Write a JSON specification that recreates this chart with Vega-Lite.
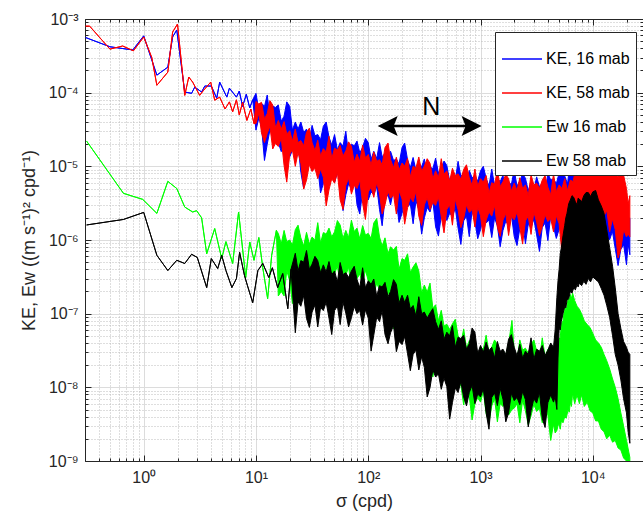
{
  "$schema": "https://vega.github.io/schema/vega-lite/v6.json",
  "autosize": {"type": "none"},
  "padding": {"left": 85, "top": 19, "right": 0, "bottom": 54},
  "width": 558,
  "height": 442,
  "background": "white",
  "config": {
    "view": {"stroke": null},
    "axis": {
      "labelFont": "Liberation Sans",
      "titleFont": "Liberation Sans",
      "labelColor": "#262626",
      "titleColor": "#262626",
      "titleFontWeight": "normal",
      "domainColor": "#262626",
      "tickColor": "#262626"
    }
  },
  "data": {
    "values": [
      {"series": "KE, 16 mab", "f": 0.304, "lo": 5.6e-4, "hi": 5.6e-4},
      {"series": "KE, 16 mab", "f": 0.5, "lo": 4.2e-4, "hi": 4.2e-4},
      {"series": "KE, 16 mab", "f": 0.8, "lo": 3.8e-4, "hi": 3.8e-4},
      {"series": "KE, 16 mab", "f": 1.0, "lo": 5.9e-4, "hi": 5.9e-4},
      {"series": "KE, 16 mab", "f": 1.31, "lo": 1.73e-4, "hi": 1.73e-4},
      {"series": "KE, 16 mab", "f": 1.64, "lo": 2.22e-4, "hi": 2.22e-4},
      {"series": "KE, 16 mab", "f": 1.81, "lo": 5.7e-4, "hi": 5.7e-4},
      {"series": "KE, 16 mab", "f": 1.97, "lo": 7.1e-4, "hi": 7.1e-4},
      {"series": "KE, 16 mab", "f": 2.32, "lo": 1.02e-4, "hi": 1.02e-4},
      {"series": "KE, 16 mab", "f": 2.67, "lo": 9.8e-5, "hi": 9.8e-5},
      {"series": "KE, 16 mab", "f": 2.85, "lo": 1.19e-4, "hi": 1.19e-4},
      {"series": "KE, 16 mab", "f": 3.28, "lo": 1.02e-4, "hi": 1.02e-4},
      {"series": "KE, 16 mab", "f": 3.5, "lo": 1.23e-4, "hi": 1.23e-4},
      {"series": "KE, 16 mab", "f": 4.0, "lo": 1.23e-4, "hi": 1.23e-4},
      {"series": "KE, 16 mab", "f": 4.47, "lo": 8.4e-5, "hi": 8.4e-5},
      {"series": "KE, 16 mab", "f": 4.75, "lo": 1.39e-4, "hi": 1.39e-4},
      {"series": "KE, 16 mab", "f": 5.5, "lo": 8.7e-5, "hi": 8.7e-5},
      {"series": "KE, 16 mab", "f": 5.8, "lo": 1.15e-4, "hi": 1.15e-4},
      {"series": "KE, 16 mab", "f": 6.7, "lo": 8.7e-5, "hi": 8.7e-5},
      {"series": "KE, 16 mab", "f": 7.1, "lo": 1.05e-4, "hi": 1.05e-4},
      {"series": "KE, 16 mab", "f": 7.6, "lo": 6.5e-5, "hi": 6.5e-5},
      {"series": "KE, 16 mab", "f": 8.2, "lo": 9.5e-5, "hi": 9.5e-5},
      {"series": "KE, 16 mab", "f": 8.8, "lo": 6.2e-5, "hi": 6.2e-5},
      {"series": "KE, 16 mab", "f": 9.35, "lo": 8.0e-5, "hi": 8.0e-5},
      {"series": "KE, 16 mab", "f": 10, "lo": 3.1e-5, "hi": 9.8e-5},
      {"series": "KE, 16 mab", "f": 11.2, "lo": 3.5e-5, "hi": 7.2e-5},
      {"series": "KE, 16 mab", "f": 12.6, "lo": 2.0e-5, "hi": 9.3e-5},
      {"series": "KE, 16 mab", "f": 14.1, "lo": 2.7e-5, "hi": 6.6e-5},
      {"series": "KE, 16 mab", "f": 15.8, "lo": 2.1e-5, "hi": 6.8e-5},
      {"series": "KE, 16 mab", "f": 17.8, "lo": 2.2e-5, "hi": 4.8e-5},
      {"series": "KE, 16 mab", "f": 20.0, "lo": 1.35e-5, "hi": 6.5e-5},
      {"series": "KE, 16 mab", "f": 22.4, "lo": 1.5e-5, "hi": 4.0e-5},
      {"series": "KE, 16 mab", "f": 25.1, "lo": 8.3e-6, "hi": 4.0e-5},
      {"series": "KE, 16 mab", "f": 28.2, "lo": 1.23e-5, "hi": 3.2e-5},
      {"series": "KE, 16 mab", "f": 31.6, "lo": 8.7e-6, "hi": 3.6e-5},
      {"series": "KE, 16 mab", "f": 35.5, "lo": 9.8e-6, "hi": 2.7e-5},
      {"series": "KE, 16 mab", "f": 39.8, "lo": 5.8e-6, "hi": 3.5e-5},
      {"series": "KE, 16 mab", "f": 44.7, "lo": 7.6e-6, "hi": 2.5e-5},
      {"series": "KE, 16 mab", "f": 50.1, "lo": 6.0e-6, "hi": 2.7e-5},
      {"series": "KE, 16 mab", "f": 56.2, "lo": 6.3e-6, "hi": 2.1e-5},
      {"series": "KE, 16 mab", "f": 63.1, "lo": 4.1e-6, "hi": 3.0e-5},
      {"series": "KE, 16 mab", "f": 70.8, "lo": 5.0e-6, "hi": 2.0e-5},
      {"series": "KE, 16 mab", "f": 79.4, "lo": 3.0e-6, "hi": 2.2e-5},
      {"series": "KE, 16 mab", "f": 89.1, "lo": 4.6e-6, "hi": 1.8e-5},
      {"series": "KE, 16 mab", "f": 100, "lo": 3.5e-6, "hi": 2.1e-5},
      {"series": "KE, 16 mab", "f": 112, "lo": 4.1e-6, "hi": 1.6e-5},
      {"series": "KE, 16 mab", "f": 126, "lo": 2.6e-6, "hi": 2.1e-5},
      {"series": "KE, 16 mab", "f": 141, "lo": 3.6e-6, "hi": 1.5e-5},
      {"series": "KE, 16 mab", "f": 158, "lo": 3.0e-6, "hi": 1.6e-5},
      {"series": "KE, 16 mab", "f": 178, "lo": 3.35e-6, "hi": 1.26e-5},
      {"series": "KE, 16 mab", "f": 200, "lo": 2.3e-6, "hi": 1.8e-5},
      {"series": "KE, 16 mab", "f": 224, "lo": 2.8e-6, "hi": 1.23e-5},
      {"series": "KE, 16 mab", "f": 251, "lo": 1.66e-6, "hi": 1.32e-5},
      {"series": "KE, 16 mab", "f": 282, "lo": 2.6e-6, "hi": 1.1e-5},
      {"series": "KE, 16 mab", "f": 316, "lo": 2.0e-6, "hi": 1.26e-5},
      {"series": "KE, 16 mab", "f": 355, "lo": 2.4e-6, "hi": 9.8e-6},
      {"series": "KE, 16 mab", "f": 398, "lo": 1.51e-6, "hi": 1.29e-5},
      {"series": "KE, 16 mab", "f": 447, "lo": 2.1e-6, "hi": 9.5e-6},
      {"series": "KE, 16 mab", "f": 501, "lo": 1.84e-6, "hi": 1.03e-5},
      {"series": "KE, 16 mab", "f": 562, "lo": 2.1e-6, "hi": 8.1e-6},
      {"series": "KE, 16 mab", "f": 631, "lo": 1.45e-6, "hi": 1.17e-5},
      {"series": "KE, 16 mab", "f": 708, "lo": 1.82e-6, "hi": 8.1e-6},
      {"series": "KE, 16 mab", "f": 794, "lo": 1.11e-6, "hi": 8.8e-6},
      {"series": "KE, 16 mab", "f": 891, "lo": 1.78e-6, "hi": 7.4e-6},
      {"series": "KE, 16 mab", "f": 1000, "lo": 1.38e-6, "hi": 8.7e-6},
      {"series": "KE, 16 mab", "f": 1122, "lo": 1.7e-6, "hi": 6.9e-6},
      {"series": "KE, 16 mab", "f": 1259, "lo": 1.08e-6, "hi": 9.2e-6},
      {"series": "KE, 16 mab", "f": 1413, "lo": 1.55e-6, "hi": 6.9e-6},
      {"series": "KE, 16 mab", "f": 1585, "lo": 1.35e-6, "hi": 7.6e-6},
      {"series": "KE, 16 mab", "f": 1778, "lo": 1.57e-6, "hi": 6.0e-6},
      {"series": "KE, 16 mab", "f": 1995, "lo": 1.12e-6, "hi": 9.0e-6},
      {"series": "KE, 16 mab", "f": 2239, "lo": 1.43e-6, "hi": 6.3e-6},
      {"series": "KE, 16 mab", "f": 2512, "lo": 8.9e-7, "hi": 6.9e-6},
      {"series": "KE, 16 mab", "f": 2818, "lo": 1.48e-6, "hi": 6.0e-6},
      {"series": "KE, 16 mab", "f": 3162, "lo": 1.17e-6, "hi": 7.2e-6},
      {"series": "KE, 16 mab", "f": 3548, "lo": 1.48e-6, "hi": 5.9e-6},
      {"series": "KE, 16 mab", "f": 3981, "lo": 9.8e-7, "hi": 8.1e-6},
      {"series": "KE, 16 mab", "f": 4467, "lo": 1.51e-6, "hi": 6.8e-6},
      {"series": "KE, 16 mab", "f": 5012, "lo": 1.4e-6, "hi": 8.1e-6},
      {"series": "KE, 16 mab", "f": 5623, "lo": 1.7e-6, "hi": 7.4e-6},
      {"series": "KE, 16 mab", "f": 6310, "lo": 1.29e-6, "hi": 1.26e-5},
      {"series": "KE, 16 mab", "f": 7079, "lo": 1.76e-6, "hi": 9.9e-6},
      {"series": "KE, 16 mab", "f": 7943, "lo": 1.17e-6, "hi": 1.23e-5},
      {"series": "KE, 16 mab", "f": 8913, "lo": 1.8e-6, "hi": 1.15e-5},
      {"series": "KE, 16 mab", "f": 10000, "lo": 1.32e-6, "hi": 1.23e-5},
      {"series": "KE, 16 mab", "f": 11220, "lo": 1.43e-6, "hi": 8.4e-6},
      {"series": "KE, 16 mab", "f": 12590, "lo": 8.1e-7, "hi": 9.8e-6},
      {"series": "KE, 16 mab", "f": 14130, "lo": 1.01e-6, "hi": 5.7e-6},
      {"series": "KE, 16 mab", "f": 15850, "lo": 7.6e-7, "hi": 4.8e-6},
      {"series": "KE, 16 mab", "f": 17780, "lo": 7.5e-7, "hi": 2.9e-6},
      {"series": "KE, 16 mab", "f": 19950, "lo": 4.6e-7, "hi": 3.3e-6},
      {"series": "KE, 16 mab", "f": 21380, "lo": 6.3e-7, "hi": 2.0e-6},
      {"series": "KE, 16 mab", "f": 10.6, "lo": 4.5e-5, "hi": 5.8e-5},
      {"series": "KE, 16 mab", "f": 11.9, "lo": 1.2e-5, "hi": 6.5e-5},
      {"series": "KE, 16 mab", "f": 13.3, "lo": 3.1e-5, "hi": 4.75e-5},
      {"series": "KE, 16 mab", "f": 14.9, "lo": 3.8e-5, "hi": 6.3e-5},
      {"series": "KE, 16 mab", "f": 16.8, "lo": 1.58e-5, "hi": 4.1e-5},
      {"series": "KE, 16 mab", "f": 18.8, "lo": 2.75e-5, "hi": 7.5e-5},
      {"series": "KE, 16 mab", "f": 21.1, "lo": 1.65e-5, "hi": 3.1e-5},
      {"series": "KE, 16 mab", "f": 23.7, "lo": 1.95e-5, "hi": 3.2e-5},
      {"series": "KE, 16 mab", "f": 26.6, "lo": 5.0e-6, "hi": 2.9e-5},
      {"series": "KE, 16 mab", "f": 29.9, "lo": 1.41e-5, "hi": 2.3e-5},
      {"series": "KE, 16 mab", "f": 33.5, "lo": 1.37e-5, "hi": 2.6e-5},
      {"series": "KE, 16 mab", "f": 37.6, "lo": 4.35e-6, "hi": 2.3e-5},
      {"series": "KE, 16 mab", "f": 42.2, "lo": 9.5e-6, "hi": 4.0e-5},
      {"series": "KE, 16 mab", "f": 47.3, "lo": 8.4e-6, "hi": 1.95e-5},
      {"series": "KE, 16 mab", "f": 53.1, "lo": 8.2e-6, "hi": 1.68e-5},
      {"series": "KE, 16 mab", "f": 59.6, "lo": 2.5e-6, "hi": 1.89e-5},
      {"series": "KE, 16 mab", "f": 66.8, "lo": 5.75e-6, "hi": 1.44e-5},
      {"series": "KE, 16 mab", "f": 75.0, "lo": 7.0e-6, "hi": 1.9e-5},
      {"series": "KE, 16 mab", "f": 84.1, "lo": 2.25e-6, "hi": 1.53e-5},
      {"series": "KE, 16 mab", "f": 94.4, "lo": 5.75e-6, "hi": 2.4e-5},
      {"series": "KE, 16 mab", "f": 106, "lo": 4.5e-6, "hi": 1.25e-5},
      {"series": "KE, 16 mab", "f": 119, "lo": 5.3e-6, "hi": 1.28e-5},
      {"series": "KE, 16 mab", "f": 133, "lo": 1.56e-6, "hi": 1.35e-5},
      {"series": "KE, 16 mab", "f": 150, "lo": 4.1e-6, "hi": 1.08e-5},
      {"series": "KE, 16 mab", "f": 168, "lo": 4.7e-6, "hi": 1.2e-5},
      {"series": "KE, 16 mab", "f": 188, "lo": 1.73e-6, "hi": 1.07e-5},
      {"series": "KE, 16 mab", "f": 211, "lo": 3.5e-6, "hi": 2.07e-5},
      {"series": "KE, 16 mab", "f": 237, "lo": 3.1e-6, "hi": 9.6e-6},
      {"series": "KE, 16 mab", "f": 266, "lo": 3.4e-6, "hi": 8.8e-6},
      {"series": "KE, 16 mab", "f": 299, "lo": 1.2e-6, "hi": 9.9e-6},
      {"series": "KE, 16 mab", "f": 335, "lo": 2.76e-6, "hi": 7.1e-6},
      {"series": "KE, 16 mab", "f": 376, "lo": 3.4e-6, "hi": 9.3e-6},
      {"series": "KE, 16 mab", "f": 422, "lo": 1.13e-6, "hi": 8.1e-6},
      {"series": "KE, 16 mab", "f": 473, "lo": 2.6e-6, "hi": 1.18e-5},
      {"series": "KE, 16 mab", "f": 531, "lo": 2.3e-6, "hi": 6.3e-6},
      {"series": "KE, 16 mab", "f": 596, "lo": 2.7e-6, "hi": 6.5e-6},
      {"series": "KE, 16 mab", "f": 668, "lo": 8.7e-7, "hi": 7.3e-6},
      {"series": "KE, 16 mab", "f": 750, "lo": 2.1e-6, "hi": 5.8e-6},
      {"series": "KE, 16 mab", "f": 841, "lo": 2.5e-6, "hi": 7.0e-6},
      {"series": "KE, 16 mab", "f": 944, "lo": 1.04e-6, "hi": 6.3e-6},
      {"series": "KE, 16 mab", "f": 1059, "lo": 2.1e-6, "hi": 1.0e-5},
      {"series": "KE, 16 mab", "f": 1189, "lo": 1.87e-6, "hi": 5.4e-6},
      {"series": "KE, 16 mab", "f": 1334, "lo": 2.0e-6, "hi": 5.5e-6},
      {"series": "KE, 16 mab", "f": 1496, "lo": 8.1e-7, "hi": 6.2e-6},
      {"series": "KE, 16 mab", "f": 1679, "lo": 1.8e-6, "hi": 4.3e-6},
      {"series": "KE, 16 mab", "f": 1884, "lo": 2.2e-6, "hi": 5.7e-6},
      {"series": "KE, 16 mab", "f": 2113, "lo": 8.4e-7, "hi": 5.4e-6},
      {"series": "KE, 16 mab", "f": 2371, "lo": 1.79e-6, "hi": 7.9e-6},
      {"series": "KE, 16 mab", "f": 2661, "lo": 1.63e-6, "hi": 4.7e-6},
      {"series": "KE, 16 mab", "f": 2985, "lo": 1.92e-6, "hi": 4.8e-6},
      {"series": "KE, 16 mab", "f": 3350, "lo": 7.0e-7, "hi": 5.3e-6},
      {"series": "KE, 16 mab", "f": 3758, "lo": 1.7e-6, "hi": 4.25e-6},
      {"series": "KE, 16 mab", "f": 4217, "lo": 2.1e-6, "hi": 6.5e-6},
      {"series": "KE, 16 mab", "f": 4732, "lo": 1.05e-6, "hi": 5.8e-6},
      {"series": "KE, 16 mab", "f": 5309, "lo": 2.1e-6, "hi": 9.3e-6},
      {"series": "KE, 16 mab", "f": 5957, "lo": 1.87e-6, "hi": 5.8e-6},
      {"series": "KE, 16 mab", "f": 6683, "lo": 2.3e-6, "hi": 7.9e-6},
      {"series": "KE, 16 mab", "f": 7499, "lo": 7.0e-7, "hi": 8.9e-6},
      {"series": "KE, 16 mab", "f": 8414, "lo": 2.07e-6, "hi": 8.3e-6},
      {"series": "KE, 16 mab", "f": 9441, "lo": 2.5e-6, "hi": 1.09e-5},
      {"series": "KE, 16 mab", "f": 10590, "lo": 9.9e-7, "hi": 7.1e-6},
      {"series": "KE, 16 mab", "f": 11890, "lo": 1.79e-6, "hi": 1.13e-5},
      {"series": "KE, 16 mab", "f": 13340, "lo": 1.11e-6, "hi": 4.4e-6},
      {"series": "KE, 16 mab", "f": 14960, "lo": 1.31e-6, "hi": 3.8e-6},
      {"series": "KE, 16 mab", "f": 16790, "lo": 4.5e-7, "hi": 2.6e-6},
      {"series": "KE, 16 mab", "f": 18840, "lo": 8.6e-7, "hi": 2.1e-6},
      {"series": "KE, 16 mab", "f": 20650, "lo": 8.8e-7, "hi": 1.9e-6},

      {"series": "KE, 58 mab", "f": 0.304, "lo": 8.0e-4, "hi": 8.0e-4},
      {"series": "KE, 58 mab", "f": 0.33, "lo": 8.0e-4, "hi": 8.0e-4},
      {"series": "KE, 58 mab", "f": 0.5, "lo": 3.9e-4, "hi": 3.9e-4},
      {"series": "KE, 58 mab", "f": 0.65, "lo": 4.3e-4, "hi": 4.3e-4},
      {"series": "KE, 58 mab", "f": 0.81, "lo": 3.7e-4, "hi": 3.7e-4},
      {"series": "KE, 58 mab", "f": 1.0, "lo": 5.7e-4, "hi": 5.7e-4},
      {"series": "KE, 58 mab", "f": 1.18, "lo": 3.0e-4, "hi": 3.0e-4},
      {"series": "KE, 58 mab", "f": 1.31, "lo": 1.26e-4, "hi": 1.26e-4},
      {"series": "KE, 58 mab", "f": 1.64, "lo": 1.9e-4, "hi": 1.9e-4},
      {"series": "KE, 58 mab", "f": 1.81, "lo": 6.65e-4, "hi": 6.65e-4},
      {"series": "KE, 58 mab", "f": 2.0, "lo": 8.55e-4, "hi": 8.55e-4},
      {"series": "KE, 58 mab", "f": 2.32, "lo": 9.2e-5, "hi": 9.2e-5},
      {"series": "KE, 58 mab", "f": 2.52, "lo": 1.63e-4, "hi": 1.63e-4},
      {"series": "KE, 58 mab", "f": 2.73, "lo": 1.39e-4, "hi": 1.39e-4},
      {"series": "KE, 58 mab", "f": 3.15, "lo": 9.2e-5, "hi": 9.2e-5},
      {"series": "KE, 58 mab", "f": 3.42, "lo": 1.08e-4, "hi": 1.08e-4},
      {"series": "KE, 58 mab", "f": 3.95, "lo": 1.39e-4, "hi": 1.39e-4},
      {"series": "KE, 58 mab", "f": 4.29, "lo": 7.9e-5, "hi": 7.9e-5},
      {"series": "KE, 58 mab", "f": 4.75, "lo": 8.7e-5, "hi": 8.7e-5},
      {"series": "KE, 58 mab", "f": 5.3, "lo": 6.0e-5, "hi": 6.0e-5},
      {"series": "KE, 58 mab", "f": 5.8, "lo": 7.5e-5, "hi": 7.5e-5},
      {"series": "KE, 58 mab", "f": 6.2, "lo": 5.5e-5, "hi": 5.5e-5},
      {"series": "KE, 58 mab", "f": 6.7, "lo": 8.0e-5, "hi": 8.0e-5},
      {"series": "KE, 58 mab", "f": 7.1, "lo": 5.0e-5, "hi": 5.0e-5},
      {"series": "KE, 58 mab", "f": 7.6, "lo": 7.4e-5, "hi": 7.4e-5},
      {"series": "KE, 58 mab", "f": 8.3, "lo": 4.2e-5, "hi": 4.2e-5},
      {"series": "KE, 58 mab", "f": 9.0, "lo": 6.0e-5, "hi": 6.0e-5},
      {"series": "KE, 58 mab", "f": 9.6, "lo": 3.8e-5, "hi": 3.8e-5},
      {"series": "KE, 58 mab", "f": 10, "lo": 3.8e-5, "hi": 7.6e-5},
      {"series": "KE, 58 mab", "f": 11.2, "lo": 2.85e-5, "hi": 7.4e-5},
      {"series": "KE, 58 mab", "f": 12.6, "lo": 2.8e-5, "hi": 5.2e-5},
      {"series": "KE, 58 mab", "f": 14.1, "lo": 1.72e-5, "hi": 6.8e-5},
      {"series": "KE, 58 mab", "f": 15.8, "lo": 1.86e-5, "hi": 4.2e-5},
      {"series": "KE, 58 mab", "f": 17.8, "lo": 1.02e-5, "hi": 4.05e-5},
      {"series": "KE, 58 mab", "f": 20.0, "lo": 1.46e-5, "hi": 3.05e-5},
      {"series": "KE, 58 mab", "f": 22.4, "lo": 1.0e-5, "hi": 3.2e-5},
      {"series": "KE, 58 mab", "f": 25.1, "lo": 1.1e-5, "hi": 2.24e-5},
      {"series": "KE, 58 mab", "f": 28.2, "lo": 6.5e-6, "hi": 2.9e-5},
      {"series": "KE, 58 mab", "f": 31.6, "lo": 8.5e-6, "hi": 2.1e-5},
      {"series": "KE, 58 mab", "f": 35.5, "lo": 6.8e-6, "hi": 2.26e-5},
      {"series": "KE, 58 mab", "f": 39.8, "lo": 7.1e-6, "hi": 1.74e-5},
      {"series": "KE, 58 mab", "f": 44.7, "lo": 4.8e-6, "hi": 2.56e-5},
      {"series": "KE, 58 mab", "f": 50.1, "lo": 5.9e-6, "hi": 1.76e-5},
      {"series": "KE, 58 mab", "f": 56.2, "lo": 3.5e-6, "hi": 1.92e-5},
      {"series": "KE, 58 mab", "f": 63.1, "lo": 5.5e-6, "hi": 1.62e-5},
      {"series": "KE, 58 mab", "f": 70.8, "lo": 4.2e-6, "hi": 1.87e-5},
      {"series": "KE, 58 mab", "f": 79.4, "lo": 5.0e-6, "hi": 1.46e-5},
      {"series": "KE, 58 mab", "f": 89.1, "lo": 3.16e-6, "hi": 1.94e-5},
      {"series": "KE, 58 mab", "f": 100, "lo": 4.5e-6, "hi": 1.45e-5},
      {"series": "KE, 58 mab", "f": 112, "lo": 3.8e-6, "hi": 1.57e-5},
      {"series": "KE, 58 mab", "f": 126, "lo": 4.3e-6, "hi": 1.23e-5},
      {"series": "KE, 58 mab", "f": 141, "lo": 3.0e-6, "hi": 1.8e-5},
      {"series": "KE, 58 mab", "f": 158, "lo": 3.7e-6, "hi": 1.23e-5},
      {"series": "KE, 58 mab", "f": 178, "lo": 2.25e-6, "hi": 1.33e-5},
      {"series": "KE, 58 mab", "f": 200, "lo": 3.6e-6, "hi": 1.11e-5},
      {"series": "KE, 58 mab", "f": 224, "lo": 2.74e-6, "hi": 1.28e-5},
      {"series": "KE, 58 mab", "f": 251, "lo": 3.3e-6, "hi": 1.0e-5},
      {"series": "KE, 58 mab", "f": 282, "lo": 2.1e-6, "hi": 1.34e-5},
      {"series": "KE, 58 mab", "f": 316, "lo": 3.0e-6, "hi": 1.01e-5},
      {"series": "KE, 58 mab", "f": 355, "lo": 2.6e-6, "hi": 1.1e-5},
      {"series": "KE, 58 mab", "f": 398, "lo": 2.95e-6, "hi": 8.7e-6},
      {"series": "KE, 58 mab", "f": 447, "lo": 2.08e-6, "hi": 1.27e-5},
      {"series": "KE, 58 mab", "f": 501, "lo": 2.6e-6, "hi": 8.7e-6},
      {"series": "KE, 58 mab", "f": 562, "lo": 1.59e-6, "hi": 9.4e-6},
      {"series": "KE, 58 mab", "f": 631, "lo": 2.57e-6, "hi": 7.9e-6},
      {"series": "KE, 58 mab", "f": 708, "lo": 1.96e-6, "hi": 9.1e-6},
      {"series": "KE, 58 mab", "f": 794, "lo": 2.37e-6, "hi": 7.0e-6},
      {"series": "KE, 58 mab", "f": 891, "lo": 1.5e-6, "hi": 9.2e-6},
      {"series": "KE, 58 mab", "f": 1000, "lo": 2.14e-6, "hi": 6.8e-6},
      {"series": "KE, 58 mab", "f": 1122, "lo": 1.85e-6, "hi": 7.5e-6},
      {"series": "KE, 58 mab", "f": 1259, "lo": 2.11e-6, "hi": 6.0e-6},
      {"series": "KE, 58 mab", "f": 1413, "lo": 1.49e-6, "hi": 8.9e-6},
      {"series": "KE, 58 mab", "f": 1585, "lo": 1.86e-6, "hi": 6.2e-6},
      {"series": "KE, 58 mab", "f": 1778, "lo": 1.15e-6, "hi": 6.8e-6},
      {"series": "KE, 58 mab", "f": 1995, "lo": 1.88e-6, "hi": 5.9e-6},
      {"series": "KE, 58 mab", "f": 2239, "lo": 1.47e-6, "hi": 7.0e-6},
      {"series": "KE, 58 mab", "f": 2512, "lo": 1.82e-6, "hi": 5.6e-6},
      {"series": "KE, 58 mab", "f": 2818, "lo": 1.19e-6, "hi": 7.7e-6},
      {"series": "KE, 58 mab", "f": 3162, "lo": 1.74e-6, "hi": 5.9e-6},
      {"series": "KE, 58 mab", "f": 3548, "lo": 1.53e-6, "hi": 6.5e-6},
      {"series": "KE, 58 mab", "f": 3981, "lo": 1.78e-6, "hi": 5.2e-6},
      {"series": "KE, 58 mab", "f": 4467, "lo": 1.29e-6, "hi": 7.9e-6},
      {"series": "KE, 58 mab", "f": 5012, "lo": 1.66e-6, "hi": 5.6e-6},
      {"series": "KE, 58 mab", "f": 5623, "lo": 1.11e-6, "hi": 6.8e-6},
      {"series": "KE, 58 mab", "f": 6310, "lo": 1.95e-6, "hi": 6.5e-6},
      {"series": "KE, 58 mab", "f": 7079, "lo": 1.64e-6, "hi": 9.8e-6},
      {"series": "KE, 58 mab", "f": 7943, "lo": 2.19e-6, "hi": 1.0e-5},
      {"series": "KE, 58 mab", "f": 8913, "lo": 1.53e-6, "hi": 1.86e-5},
      {"series": "KE, 58 mab", "f": 10000, "lo": 2.4e-6, "hi": 1.9e-5},
      {"series": "KE, 58 mab", "f": 11220, "lo": 1.97e-6, "hi": 2.6e-5},
      {"series": "KE, 58 mab", "f": 12590, "lo": 2.14e-6, "hi": 1.66e-5},
      {"series": "KE, 58 mab", "f": 14130, "lo": 1.29e-6, "hi": 1.86e-5},
      {"series": "KE, 58 mab", "f": 15850, "lo": 1.38e-6, "hi": 1.0e-5},
      {"series": "KE, 58 mab", "f": 17780, "lo": 7.6e-7, "hi": 8.3e-6},
      {"series": "KE, 58 mab", "f": 19950, "lo": 1.1e-6, "hi": 5.0e-6},
      {"series": "KE, 58 mab", "f": 21380, "lo": 1.1e-6, "hi": 4.0e-6},
      {"series": "KE, 58 mab", "f": 10.6, "lo": 5.3e-5, "hi": 7.0e-5},
      {"series": "KE, 58 mab", "f": 11.9, "lo": 2.1e-5, "hi": 4.4e-5},
      {"series": "KE, 58 mab", "f": 13.3, "lo": 3.5e-5, "hi": 7.8e-5},
      {"series": "KE, 58 mab", "f": 14.9, "lo": 2.05e-5, "hi": 3.3e-5},
      {"series": "KE, 58 mab", "f": 16.8, "lo": 2.4e-5, "hi": 3.2e-5},
      {"series": "KE, 58 mab", "f": 18.8, "lo": 6.1e-6, "hi": 2.75e-5},
      {"series": "KE, 58 mab", "f": 21.1, "lo": 1.68e-5, "hi": 2.2e-5},
      {"series": "KE, 58 mab", "f": 23.7, "lo": 1.54e-5, "hi": 2.1e-5},
      {"series": "KE, 58 mab", "f": 26.6, "lo": 4.9e-6, "hi": 1.9e-5},
      {"series": "KE, 58 mab", "f": 29.9, "lo": 1.06e-5, "hi": 3.3e-5},
      {"series": "KE, 58 mab", "f": 33.5, "lo": 9.4e-6, "hi": 1.64e-5},
      {"series": "KE, 58 mab", "f": 37.6, "lo": 9.2e-6, "hi": 1.39e-5},
      {"series": "KE, 58 mab", "f": 42.2, "lo": 2.9e-6, "hi": 1.57e-5},
      {"series": "KE, 58 mab", "f": 47.3, "lo": 6.8e-6, "hi": 1.27e-5},
      {"series": "KE, 58 mab", "f": 53.1, "lo": 8.3e-6, "hi": 1.67e-5},
      {"series": "KE, 58 mab", "f": 59.6, "lo": 2.6e-6, "hi": 1.38e-5},
      {"series": "KE, 58 mab", "f": 66.8, "lo": 6.9e-6, "hi": 2.15e-5},
      {"series": "KE, 58 mab", "f": 75.0, "lo": 5.5e-6, "hi": 1.14e-5},
      {"series": "KE, 58 mab", "f": 84.1, "lo": 6.5e-6, "hi": 1.17e-5},
      {"series": "KE, 58 mab", "f": 94.4, "lo": 1.9e-6, "hi": 1.3e-5},
      {"series": "KE, 58 mab", "f": 106, "lo": 5.2e-6, "hi": 1.04e-5},
      {"series": "KE, 58 mab", "f": 119, "lo": 6.0e-6, "hi": 1.17e-5},
      {"series": "KE, 58 mab", "f": 133, "lo": 2.25e-6, "hi": 1.05e-5},
      {"series": "KE, 58 mab", "f": 150, "lo": 4.6e-6, "hi": 2.07e-5},
      {"series": "KE, 58 mab", "f": 168, "lo": 4.1e-6, "hi": 9.6e-6},
      {"series": "KE, 58 mab", "f": 188, "lo": 4.7e-6, "hi": 8.9e-6},
      {"series": "KE, 58 mab", "f": 211, "lo": 1.64e-6, "hi": 1.0e-5},
      {"series": "KE, 58 mab", "f": 237, "lo": 3.8e-6, "hi": 7.2e-6},
      {"series": "KE, 58 mab", "f": 266, "lo": 4.6e-6, "hi": 9.5e-6},
      {"series": "KE, 58 mab", "f": 299, "lo": 1.58e-6, "hi": 8.6e-6},
      {"series": "KE, 58 mab", "f": 335, "lo": 3.75e-6, "hi": 1.27e-5},
      {"series": "KE, 58 mab", "f": 376, "lo": 3.25e-6, "hi": 6.8e-6},
      {"series": "KE, 58 mab", "f": 422, "lo": 3.8e-6, "hi": 7.0e-6},
      {"series": "KE, 58 mab", "f": 473, "lo": 1.25e-6, "hi": 7.8e-6},
      {"series": "KE, 58 mab", "f": 531, "lo": 3.0e-6, "hi": 6.3e-6},
      {"series": "KE, 58 mab", "f": 596, "lo": 3.6e-6, "hi": 7.5e-6},
      {"series": "KE, 58 mab", "f": 668, "lo": 1.47e-6, "hi": 6.7e-6},
      {"series": "KE, 58 mab", "f": 750, "lo": 3.0e-6, "hi": 1.05e-5},
      {"series": "KE, 58 mab", "f": 841, "lo": 2.6e-6, "hi": 5.5e-6},
      {"series": "KE, 58 mab", "f": 944, "lo": 2.8e-6, "hi": 5.4e-6},
      {"series": "KE, 58 mab", "f": 1059, "lo": 1.11e-6, "hi": 6.1e-6},
      {"series": "KE, 58 mab", "f": 1189, "lo": 2.4e-6, "hi": 4.3e-6},
      {"series": "KE, 58 mab", "f": 1334, "lo": 2.95e-6, "hi": 5.7e-6},
      {"series": "KE, 58 mab", "f": 1496, "lo": 1.12e-6, "hi": 5.3e-6},
      {"series": "KE, 58 mab", "f": 1679, "lo": 2.3e-6, "hi": 7.8e-6},
      {"series": "KE, 58 mab", "f": 1884, "lo": 2.07e-6, "hi": 4.6e-6},
      {"series": "KE, 58 mab", "f": 2113, "lo": 2.4e-6, "hi": 4.7e-6},
      {"series": "KE, 58 mab", "f": 2371, "lo": 8.8e-7, "hi": 5.0e-6},
      {"series": "KE, 58 mab", "f": 2661, "lo": 2.1e-6, "hi": 4.0e-6},
      {"series": "KE, 58 mab", "f": 2985, "lo": 2.4e-6, "hi": 5.6e-6},
      {"series": "KE, 58 mab", "f": 3350, "lo": 1.15e-6, "hi": 5.0e-6},
      {"series": "KE, 58 mab", "f": 3758, "lo": 2.2e-6, "hi": 7.5e-6},
      {"series": "KE, 58 mab", "f": 4217, "lo": 1.96e-6, "hi": 4.1e-6},
      {"series": "KE, 58 mab", "f": 4732, "lo": 2.15e-6, "hi": 4.5e-6},
      {"series": "KE, 58 mab", "f": 5309, "lo": 6.7e-7, "hi": 5.0e-6},
      {"series": "KE, 58 mab", "f": 5957, "lo": 2.25e-6, "hi": 4.7e-6},
      {"series": "KE, 58 mab", "f": 6683, "lo": 2.7e-6, "hi": 6.2e-6},
      {"series": "KE, 58 mab", "f": 7499, "lo": 1.23e-6, "hi": 8.3e-6},
      {"series": "KE, 58 mab", "f": 8414, "lo": 2.7e-6, "hi": 1.45e-5},
      {"series": "KE, 58 mab", "f": 9441, "lo": 2.6e-6, "hi": 1.45e-5},
      {"series": "KE, 58 mab", "f": 10590, "lo": 3.1e-6, "hi": 1.52e-5},
      {"series": "KE, 58 mab", "f": 11890, "lo": 1.18e-6, "hi": 2.3e-5},
      {"series": "KE, 58 mab", "f": 13340, "lo": 2.5e-6, "hi": 1.5e-5},
      {"series": "KE, 58 mab", "f": 14960, "lo": 1.93e-6, "hi": 1.35e-5},
      {"series": "KE, 58 mab", "f": 16790, "lo": 5.7e-7, "hi": 7.1e-6},
      {"series": "KE, 58 mab", "f": 18840, "lo": 1.38e-6, "hi": 7.5e-6},
      {"series": "KE, 58 mab", "f": 20650, "lo": 1.21e-6, "hi": 3.1e-6},

      {"series": "Ew 16 mab", "f": 0.31, "lo": 2.2e-5, "hi": 2.2e-5},
      {"series": "Ew 16 mab", "f": 0.66, "lo": 4.3e-6, "hi": 4.3e-6},
      {"series": "Ew 16 mab", "f": 0.98, "lo": 3.56e-6, "hi": 3.56e-6},
      {"series": "Ew 16 mab", "f": 1.31, "lo": 2.3e-6, "hi": 2.3e-6},
      {"series": "Ew 16 mab", "f": 1.64, "lo": 6.25e-6, "hi": 6.25e-6},
      {"series": "Ew 16 mab", "f": 1.97, "lo": 5.0e-6, "hi": 5.0e-6},
      {"series": "Ew 16 mab", "f": 2.32, "lo": 2.8e-6, "hi": 2.8e-6},
      {"series": "Ew 16 mab", "f": 2.73, "lo": 2.4e-6, "hi": 2.4e-6},
      {"series": "Ew 16 mab", "f": 2.96, "lo": 2.5e-6, "hi": 2.5e-6},
      {"series": "Ew 16 mab", "f": 3.28, "lo": 2.0e-6, "hi": 2.0e-6},
      {"series": "Ew 16 mab", "f": 3.64, "lo": 6.5e-7, "hi": 6.5e-7},
      {"series": "Ew 16 mab", "f": 4.29, "lo": 1.43e-6, "hi": 1.43e-6},
      {"series": "Ew 16 mab", "f": 4.95, "lo": 5.6e-7, "hi": 5.6e-7},
      {"series": "Ew 16 mab", "f": 5.4, "lo": 9.5e-7, "hi": 9.5e-7},
      {"series": "Ew 16 mab", "f": 6.2, "lo": 4.8e-7, "hi": 4.8e-7},
      {"series": "Ew 16 mab", "f": 7.0, "lo": 2.4e-6, "hi": 2.4e-6},
      {"series": "Ew 16 mab", "f": 8.1, "lo": 3.1e-7, "hi": 3.1e-7},
      {"series": "Ew 16 mab", "f": 8.8, "lo": 9.4e-7, "hi": 9.4e-7},
      {"series": "Ew 16 mab", "f": 9.6, "lo": 5.3e-7, "hi": 5.3e-7},
      {"series": "Ew 16 mab", "f": 10.6, "lo": 1.08e-6, "hi": 1.08e-6},
      {"series": "Ew 16 mab", "f": 11.5, "lo": 4.2e-7, "hi": 4.2e-7},
      {"series": "Ew 16 mab", "f": 12.7, "lo": 1.6e-7, "hi": 1.6e-7},
      {"series": "Ew 16 mab", "f": 13.8, "lo": 6.2e-7, "hi": 6.2e-7},
      {"series": "Ew 16 mab", "f": 15.2, "lo": 1.35e-6, "hi": 1.35e-6},
      {"series": "Ew 16 mab", "f": 15.8, "lo": 1.74e-7, "hi": 1.23e-6},
      {"series": "Ew 16 mab", "f": 17.8, "lo": 1.74e-7, "hi": 1.35e-6},
      {"series": "Ew 16 mab", "f": 20.0, "lo": 2.75e-7, "hi": 1.0e-6},
      {"series": "Ew 16 mab", "f": 22.4, "lo": 1.82e-7, "hi": 1.38e-6},
      {"series": "Ew 16 mab", "f": 25.1, "lo": 2.7e-7, "hi": 1.07e-6},
      {"series": "Ew 16 mab", "f": 28.2, "lo": 2.5e-7, "hi": 1.27e-6},
      {"series": "Ew 16 mab", "f": 31.6, "lo": 3.16e-7, "hi": 1.1e-6},
      {"series": "Ew 16 mab", "f": 35.5, "lo": 2.4e-7, "hi": 1.72e-6},
      {"series": "Ew 16 mab", "f": 39.8, "lo": 3.3e-7, "hi": 1.26e-6},
      {"series": "Ew 16 mab", "f": 44.7, "lo": 2.1e-7, "hi": 1.45e-6},
      {"series": "Ew 16 mab", "f": 50.1, "lo": 3.5e-7, "hi": 1.29e-6},
      {"series": "Ew 16 mab", "f": 56.2, "lo": 2.7e-7, "hi": 1.6e-6},
      {"series": "Ew 16 mab", "f": 63.1, "lo": 3.3e-7, "hi": 1.35e-6},
      {"series": "Ew 16 mab", "f": 70.8, "lo": 2.1e-7, "hi": 1.86e-6},
      {"series": "Ew 16 mab", "f": 79.4, "lo": 3.0e-7, "hi": 1.45e-6},
      {"series": "Ew 16 mab", "f": 89.1, "lo": 2.5e-7, "hi": 1.57e-6},
      {"series": "Ew 16 mab", "f": 100, "lo": 2.8e-7, "hi": 1.23e-6},
      {"series": "Ew 16 mab", "f": 112, "lo": 1.82e-7, "hi": 1.7e-6},
      {"series": "Ew 16 mab", "f": 126, "lo": 2.1e-7, "hi": 1.1e-6},
      {"series": "Ew 16 mab", "f": 141, "lo": 1.11e-7, "hi": 1.07e-6},
      {"series": "Ew 16 mab", "f": 158, "lo": 1.55e-7, "hi": 8.1e-7},
      {"series": "Ew 16 mab", "f": 178, "lo": 1.03e-7, "hi": 8.2e-7},
      {"series": "Ew 16 mab", "f": 200, "lo": 1.1e-7, "hi": 5.6e-7},
      {"series": "Ew 16 mab", "f": 224, "lo": 5.75e-8, "hi": 6.5e-7},
      {"series": "Ew 16 mab", "f": 251, "lo": 6.8e-8, "hi": 4.3e-7},
      {"series": "Ew 16 mab", "f": 282, "lo": 4.5e-8, "hi": 3.8e-7},
      {"series": "Ew 16 mab", "f": 316, "lo": 4.0e-8, "hi": 2.45e-7},
      {"series": "Ew 16 mab", "f": 355, "lo": 2.3e-8, "hi": 2.6e-7},
      {"series": "Ew 16 mab", "f": 398, "lo": 2.3e-8, "hi": 1.32e-7},
      {"series": "Ew 16 mab", "f": 447, "lo": 1.17e-8, "hi": 1.11e-7},
      {"series": "Ew 16 mab", "f": 501, "lo": 1.55e-8, "hi": 7.2e-8},
      {"series": "Ew 16 mab", "f": 562, "lo": 9.8e-9, "hi": 7.3e-8},
      {"series": "Ew 16 mab", "f": 631, "lo": 9.8e-9, "hi": 5.0e-8},
      {"series": "Ew 16 mab", "f": 708, "lo": 5.75e-9, "hi": 6.2e-8},
      {"series": "Ew 16 mab", "f": 794, "lo": 7.6e-9, "hi": 4.3e-8},
      {"series": "Ew 16 mab", "f": 891, "lo": 6.0e-9, "hi": 4.5e-8},
      {"series": "Ew 16 mab", "f": 1000, "lo": 6.3e-9, "hi": 3.5e-8},
      {"series": "Ew 16 mab", "f": 1122, "lo": 4.4e-9, "hi": 5.1e-8},
      {"series": "Ew 16 mab", "f": 1259, "lo": 5.6e-9, "hi": 3.5e-8},
      {"series": "Ew 16 mab", "f": 1413, "lo": 3.4e-9, "hi": 3.8e-8},
      {"series": "Ew 16 mab", "f": 1585, "lo": 5.5e-9, "hi": 3.2e-8},
      {"series": "Ew 16 mab", "f": 1778, "lo": 4.2e-9, "hi": 3.9e-8},
      {"series": "Ew 16 mab", "f": 1905, "lo": 5.0e-9, "hi": 8.1e-8},
      {"series": "Ew 16 mab", "f": 1995, "lo": 5.2e-9, "hi": 3.16e-8},
      {"series": "Ew 16 mab", "f": 2239, "lo": 3.3e-9, "hi": 4.4e-8},
      {"series": "Ew 16 mab", "f": 2512, "lo": 4.8e-9, "hi": 3.4e-8},
      {"series": "Ew 16 mab", "f": 2818, "lo": 4.1e-9, "hi": 3.8e-8},
      {"series": "Ew 16 mab", "f": 3162, "lo": 4.7e-9, "hi": 3.1e-8},
      {"series": "Ew 16 mab", "f": 3548, "lo": 3.3e-9, "hi": 4.7e-8},
      {"series": "Ew 16 mab", "f": 3981, "lo": 4.2e-9, "hi": 3.3e-8},
      {"series": "Ew 16 mab", "f": 4467, "lo": 3.16e-9, "hi": 3.5e-8},
      {"series": "Ew 16 mab", "f": 4620, "lo": 2.4e-9, "hi": 3.0e-8},
      {"series": "Ew 16 mab", "f": 4786, "lo": 2.6e-9, "hi": 3.5e-8},
      {"series": "Ew 16 mab", "f": 4900, "lo": 3.0e-9, "hi": 3.2e-8},
      {"series": "Ew 16 mab", "f": 5012, "lo": 3.16e-9, "hi": 4.5e-8},
      {"series": "Ew 16 mab", "f": 5130, "lo": 2.7e-9, "hi": 4.8e-8},
      {"series": "Ew 16 mab", "f": 5248, "lo": 3.5e-9, "hi": 7.1e-8},
      {"series": "Ew 16 mab", "f": 5430, "lo": 3.3e-9, "hi": 8.0e-8},
      {"series": "Ew 16 mab", "f": 5623, "lo": 4.0e-9, "hi": 1.26e-7},
      {"series": "Ew 16 mab", "f": 5800, "lo": 3.8e-9, "hi": 1.1e-7},
      {"series": "Ew 16 mab", "f": 6026, "lo": 5.0e-9, "hi": 1.58e-7},
      {"series": "Ew 16 mab", "f": 6170, "lo": 4.6e-9, "hi": 1.5e-7},
      {"series": "Ew 16 mab", "f": 6310, "lo": 6.3e-9, "hi": 1.82e-7},
      {"series": "Ew 16 mab", "f": 6450, "lo": 5.5e-9, "hi": 1.6e-7},
      {"series": "Ew 16 mab", "f": 6607, "lo": 8.3e-9, "hi": 1.9e-7},
      {"series": "Ew 16 mab", "f": 6900, "lo": 6.0e-9, "hi": 1.5e-7},
      {"series": "Ew 16 mab", "f": 7244, "lo": 7.9e-9, "hi": 1.26e-7},
      {"series": "Ew 16 mab", "f": 7600, "lo": 6.0e-9, "hi": 1.15e-7},
      {"series": "Ew 16 mab", "f": 7943, "lo": 7.9e-9, "hi": 1.0e-7},
      {"series": "Ew 16 mab", "f": 8400, "lo": 5.5e-9, "hi": 8.0e-8},
      {"series": "Ew 16 mab", "f": 8913, "lo": 6.3e-9, "hi": 7.1e-8},
      {"series": "Ew 16 mab", "f": 9450, "lo": 4.8e-9, "hi": 6.5e-8},
      {"series": "Ew 16 mab", "f": 10000, "lo": 4.5e-9, "hi": 5.4e-8},
      {"series": "Ew 16 mab", "f": 10600, "lo": 3.5e-9, "hi": 4.4e-8},
      {"series": "Ew 16 mab", "f": 11220, "lo": 3.5e-9, "hi": 4.0e-8},
      {"series": "Ew 16 mab", "f": 11900, "lo": 2.7e-9, "hi": 3.5e-8},
      {"series": "Ew 16 mab", "f": 12590, "lo": 2.5e-9, "hi": 2.8e-8},
      {"series": "Ew 16 mab", "f": 13300, "lo": 2.0e-9, "hi": 2.3e-8},
      {"series": "Ew 16 mab", "f": 14130, "lo": 2.24e-9, "hi": 1.78e-8},
      {"series": "Ew 16 mab", "f": 15000, "lo": 1.8e-9, "hi": 1.3e-8},
      {"series": "Ew 16 mab", "f": 15850, "lo": 1.9e-9, "hi": 1.0e-8},
      {"series": "Ew 16 mab", "f": 16800, "lo": 1.5e-9, "hi": 7.0e-9},
      {"series": "Ew 16 mab", "f": 17780, "lo": 1.41e-9, "hi": 4.5e-9},
      {"series": "Ew 16 mab", "f": 18800, "lo": 1.1e-9, "hi": 3.0e-9},
      {"series": "Ew 16 mab", "f": 19950, "lo": 1.0e-9, "hi": 1.9e-9},
      {"series": "Ew 16 mab", "f": 21380, "lo": 1.0e-9, "hi": 1.12e-9},
      {"series": "Ew 16 mab", "f": 16.8, "lo": 2.0e-7, "hi": 8.9e-7},
      {"series": "Ew 16 mab", "f": 18.8, "lo": 3.85e-7, "hi": 9.5e-7},
      {"series": "Ew 16 mab", "f": 21.1, "lo": 1.37e-7, "hi": 8.5e-7},
      {"series": "Ew 16 mab", "f": 23.7, "lo": 3.4e-7, "hi": 1.59e-6},
      {"series": "Ew 16 mab", "f": 26.6, "lo": 3.0e-7, "hi": 8.3e-7},
      {"series": "Ew 16 mab", "f": 29.9, "lo": 4.1e-7, "hi": 8.8e-7},
      {"series": "Ew 16 mab", "f": 33.5, "lo": 1.44e-7, "hi": 9.9e-7},
      {"series": "Ew 16 mab", "f": 37.6, "lo": 3.8e-7, "hi": 9.1e-7},
      {"series": "Ew 16 mab", "f": 42.2, "lo": 4.6e-7, "hi": 1.2e-6},
      {"series": "Ew 16 mab", "f": 47.3, "lo": 1.58e-7, "hi": 1.1e-6},
      {"series": "Ew 16 mab", "f": 53.1, "lo": 4.4e-7, "hi": 1.84e-6},
      {"series": "Ew 16 mab", "f": 59.6, "lo": 3.6e-7, "hi": 1.05e-6},
      {"series": "Ew 16 mab", "f": 66.8, "lo": 4.3e-7, "hi": 1.08e-6},
      {"series": "Ew 16 mab", "f": 75.0, "lo": 1.26e-7, "hi": 1.3e-6},
      {"series": "Ew 16 mab", "f": 84.1, "lo": 3.45e-7, "hi": 1.04e-6},
      {"series": "Ew 16 mab", "f": 94.4, "lo": 3.9e-7, "hi": 1.17e-6},
      {"series": "Ew 16 mab", "f": 106, "lo": 1.37e-7, "hi": 1.05e-6},
      {"series": "Ew 16 mab", "f": 119, "lo": 2.6e-7, "hi": 1.96e-6},
      {"series": "Ew 16 mab", "f": 133, "lo": 2.3e-7, "hi": 8.3e-7},
      {"series": "Ew 16 mab", "f": 150, "lo": 2.0e-7, "hi": 6.5e-7},
      {"series": "Ew 16 mab", "f": 168, "lo": 6.2e-8, "hi": 7.3e-7},
      {"series": "Ew 16 mab", "f": 188, "lo": 1.27e-7, "hi": 4.0e-7},
      {"series": "Ew 16 mab", "f": 211, "lo": 1.54e-7, "hi": 5.3e-7},
      {"series": "Ew 16 mab", "f": 237, "lo": 4.3e-8, "hi": 3.65e-7},
      {"series": "Ew 16 mab", "f": 266, "lo": 8.5e-8, "hi": 4.9e-7},
      {"series": "Ew 16 mab", "f": 299, "lo": 5.0e-8, "hi": 1.9e-7},
      {"series": "Ew 16 mab", "f": 335, "lo": 5.2e-8, "hi": 1.96e-7},
      {"series": "Ew 16 mab", "f": 376, "lo": 1.38e-8, "hi": 1.19e-7},
      {"series": "Ew 16 mab", "f": 422, "lo": 2.65e-8, "hi": 8.0e-8},
      {"series": "Ew 16 mab", "f": 473, "lo": 2.2e-8, "hi": 6.8e-8},
      {"series": "Ew 16 mab", "f": 531, "lo": 7.4e-9, "hi": 6.1e-8},
      {"series": "Ew 16 mab", "f": 596, "lo": 1.23e-8, "hi": 8.4e-8},
      {"series": "Ew 16 mab", "f": 668, "lo": 1.08e-8, "hi": 3.9e-8},
      {"series": "Ew 16 mab", "f": 750, "lo": 9.9e-9, "hi": 3.4e-8},
      {"series": "Ew 16 mab", "f": 841, "lo": 3.6e-9, "hi": 3.9e-8},
      {"series": "Ew 16 mab", "f": 944, "lo": 7.2e-9, "hi": 2.5e-8},
      {"series": "Ew 16 mab", "f": 1059, "lo": 8.8e-9, "hi": 3.3e-8},
      {"series": "Ew 16 mab", "f": 1189, "lo": 3.3e-9, "hi": 3.0e-8},
      {"series": "Ew 16 mab", "f": 1334, "lo": 7.0e-9, "hi": 4.4e-8},
      {"series": "Ew 16 mab", "f": 1496, "lo": 6.0e-9, "hi": 2.5e-8},
      {"series": "Ew 16 mab", "f": 1679, "lo": 7.2e-9, "hi": 2.6e-8},
      {"series": "Ew 16 mab", "f": 2113, "lo": 6.0e-9, "hi": 2.3e-8},
      {"series": "Ew 16 mab", "f": 2371, "lo": 6.7e-9, "hi": 3.2e-8},
      {"series": "Ew 16 mab", "f": 2661, "lo": 3.1e-9, "hi": 2.9e-8},
      {"series": "Ew 16 mab", "f": 2985, "lo": 5.9e-9, "hi": 4.4e-8},
      {"series": "Ew 16 mab", "f": 3350, "lo": 5.2e-9, "hi": 2.4e-8},
      {"series": "Ew 16 mab", "f": 3758, "lo": 5.5e-9, "hi": 2.6e-8},
      {"series": "Ew 16 mab", "f": 4217, "lo": 1.9e-9, "hi": 3.0e-8},

      {"series": "Ew 58 mab", "f": 0.31, "lo": 1.6e-6, "hi": 1.6e-6},
      {"series": "Ew 58 mab", "f": 0.66, "lo": 1.9e-6, "hi": 1.9e-6},
      {"series": "Ew 58 mab", "f": 1.0, "lo": 2.37e-6, "hi": 2.37e-6},
      {"series": "Ew 58 mab", "f": 1.31, "lo": 6.2e-7, "hi": 6.2e-7},
      {"series": "Ew 58 mab", "f": 1.64, "lo": 3.85e-7, "hi": 3.85e-7},
      {"series": "Ew 58 mab", "f": 1.97, "lo": 5.3e-7, "hi": 5.3e-7},
      {"series": "Ew 58 mab", "f": 2.32, "lo": 4.8e-7, "hi": 4.8e-7},
      {"series": "Ew 58 mab", "f": 2.67, "lo": 6.4e-7, "hi": 6.4e-7},
      {"series": "Ew 58 mab", "f": 3.0, "lo": 5.8e-7, "hi": 5.8e-7},
      {"series": "Ew 58 mab", "f": 3.64, "lo": 2.26e-7, "hi": 2.26e-7},
      {"series": "Ew 58 mab", "f": 4.0, "lo": 5.6e-7, "hi": 5.6e-7},
      {"series": "Ew 58 mab", "f": 4.56, "lo": 4.1e-7, "hi": 4.1e-7},
      {"series": "Ew 58 mab", "f": 4.95, "lo": 6.2e-7, "hi": 6.2e-7},
      {"series": "Ew 58 mab", "f": 5.4, "lo": 3.85e-7, "hi": 3.85e-7},
      {"series": "Ew 58 mab", "f": 6.1, "lo": 2.26e-7, "hi": 2.26e-7},
      {"series": "Ew 58 mab", "f": 6.7, "lo": 3.0e-7, "hi": 3.0e-7},
      {"series": "Ew 58 mab", "f": 7.15, "lo": 6.8e-7, "hi": 6.8e-7},
      {"series": "Ew 58 mab", "f": 7.9, "lo": 3.3e-7, "hi": 3.3e-7},
      {"series": "Ew 58 mab", "f": 8.4, "lo": 2.4e-7, "hi": 2.4e-7},
      {"series": "Ew 58 mab", "f": 9.35, "lo": 1.41e-7, "hi": 1.41e-7},
      {"series": "Ew 58 mab", "f": 10.4, "lo": 3.85e-7, "hi": 3.85e-7},
      {"series": "Ew 58 mab", "f": 11.5, "lo": 4.8e-7, "hi": 4.8e-7},
      {"series": "Ew 58 mab", "f": 13.0, "lo": 3.1e-7, "hi": 3.1e-7},
      {"series": "Ew 58 mab", "f": 14.0, "lo": 4.2e-7, "hi": 4.2e-7},
      {"series": "Ew 58 mab", "f": 15.6, "lo": 2.26e-7, "hi": 2.26e-7},
      {"series": "Ew 58 mab", "f": 17.3, "lo": 3.5e-7, "hi": 3.5e-7},
      {"series": "Ew 58 mab", "f": 19.2, "lo": 1.17e-7, "hi": 1.17e-7},
      {"series": "Ew 58 mab", "f": 20.5, "lo": 4.0e-7, "hi": 4.0e-7},
      {"series": "Ew 58 mab", "f": 22.4, "lo": 5.5e-8, "hi": 6.6e-7},
      {"series": "Ew 58 mab", "f": 25.1, "lo": 1.26e-7, "hi": 5.25e-7},
      {"series": "Ew 58 mab", "f": 28.2, "lo": 8.6e-8, "hi": 7.2e-7},
      {"series": "Ew 58 mab", "f": 31.6, "lo": 1.05e-7, "hi": 4.7e-7},
      {"series": "Ew 58 mab", "f": 35.5, "lo": 6.6e-8, "hi": 5.25e-7},
      {"series": "Ew 58 mab", "f": 39.8, "lo": 1.1e-7, "hi": 4.6e-7},
      {"series": "Ew 58 mab", "f": 44.7, "lo": 8.7e-8, "hi": 5.1e-7},
      {"series": "Ew 58 mab", "f": 50.1, "lo": 1.1e-7, "hi": 3.8e-7},
      {"series": "Ew 58 mab", "f": 56.2, "lo": 7.1e-8, "hi": 4.95e-7},
      {"series": "Ew 58 mab", "f": 63.1, "lo": 1.02e-7, "hi": 3.6e-7},
      {"series": "Ew 58 mab", "f": 70.8, "lo": 8.8e-8, "hi": 3.8e-7},
      {"series": "Ew 58 mab", "f": 79.4, "lo": 1.0e-7, "hi": 2.9e-7},
      {"series": "Ew 58 mab", "f": 89.1, "lo": 7.0e-8, "hi": 4.2e-7},
      {"series": "Ew 58 mab", "f": 100, "lo": 8.7e-8, "hi": 2.8e-7},
      {"series": "Ew 58 mab", "f": 112, "lo": 5.1e-8, "hi": 2.95e-7},
      {"series": "Ew 58 mab", "f": 126, "lo": 7.8e-8, "hi": 2.4e-7},
      {"series": "Ew 58 mab", "f": 141, "lo": 5.2e-8, "hi": 2.66e-7},
      {"series": "Ew 58 mab", "f": 158, "lo": 5.5e-8, "hi": 2.0e-7},
      {"series": "Ew 58 mab", "f": 178, "lo": 3.05e-8, "hi": 2.5e-7},
      {"series": "Ew 58 mab", "f": 200, "lo": 3.8e-8, "hi": 1.78e-7},
      {"series": "Ew 58 mab", "f": 224, "lo": 2.85e-8, "hi": 1.78e-7},
      {"series": "Ew 58 mab", "f": 251, "lo": 2.8e-8, "hi": 1.29e-7},
      {"series": "Ew 58 mab", "f": 282, "lo": 1.72e-8, "hi": 1.7e-7},
      {"series": "Ew 58 mab", "f": 316, "lo": 1.86e-8, "hi": 1.05e-7},
      {"series": "Ew 58 mab", "f": 355, "lo": 9.9e-9, "hi": 1.02e-7},
      {"series": "Ew 58 mab", "f": 398, "lo": 1.38e-8, "hi": 7.8e-8},
      {"series": "Ew 58 mab", "f": 447, "lo": 9.4e-9, "hi": 8.0e-8},
      {"series": "Ew 58 mab", "f": 501, "lo": 1.02e-8, "hi": 5.6e-8},
      {"series": "Ew 58 mab", "f": 562, "lo": 6.2e-9, "hi": 6.9e-8},
      {"series": "Ew 58 mab", "f": 631, "lo": 8.5e-9, "hi": 4.8e-8},
      {"series": "Ew 58 mab", "f": 708, "lo": 7.4e-9, "hi": 5.1e-8},
      {"series": "Ew 58 mab", "f": 794, "lo": 8.5e-9, "hi": 3.9e-8},
      {"series": "Ew 58 mab", "f": 891, "lo": 6.0e-9, "hi": 5.6e-8},
      {"series": "Ew 58 mab", "f": 1000, "lo": 7.4e-9, "hi": 3.7e-8},
      {"series": "Ew 58 mab", "f": 1122, "lo": 4.5e-9, "hi": 4.1e-8},
      {"series": "Ew 58 mab", "f": 1259, "lo": 7.3e-9, "hi": 3.5e-8},
      {"series": "Ew 58 mab", "f": 1413, "lo": 5.65e-9, "hi": 4.2e-8},
      {"series": "Ew 58 mab", "f": 1585, "lo": 6.9e-9, "hi": 3.3e-8},
      {"series": "Ew 58 mab", "f": 1778, "lo": 4.5e-9, "hi": 4.5e-8},
      {"series": "Ew 58 mab", "f": 1995, "lo": 6.6e-9, "hi": 3.5e-8},
      {"series": "Ew 58 mab", "f": 2239, "lo": 5.8e-9, "hi": 3.85e-8},
      {"series": "Ew 58 mab", "f": 2512, "lo": 6.8e-9, "hi": 3.1e-8},
      {"series": "Ew 58 mab", "f": 2818, "lo": 4.8e-9, "hi": 4.7e-8},
      {"series": "Ew 58 mab", "f": 3162, "lo": 6.1e-9, "hi": 3.3e-8},
      {"series": "Ew 58 mab", "f": 3548, "lo": 3.8e-9, "hi": 3.7e-8},
      {"series": "Ew 58 mab", "f": 3981, "lo": 6.2e-9, "hi": 3.2e-8},
      {"series": "Ew 58 mab", "f": 4467, "lo": 6.3e-9, "hi": 3.5e-8},
      {"series": "Ew 58 mab", "f": 4620, "lo": 7.5e-9, "hi": 6.0e-8},
      {"series": "Ew 58 mab", "f": 4786, "lo": 5.0e-9, "hi": 1.66e-7},
      {"series": "Ew 58 mab", "f": 4900, "lo": 2.5e-8, "hi": 2.8e-7},
      {"series": "Ew 58 mab", "f": 5012, "lo": 6.3e-8, "hi": 4.0e-7},
      {"series": "Ew 58 mab", "f": 5130, "lo": 6.0e-8, "hi": 6.5e-7},
      {"series": "Ew 58 mab", "f": 5248, "lo": 7.9e-8, "hi": 7.9e-7},
      {"series": "Ew 58 mab", "f": 5430, "lo": 1.0e-7, "hi": 1.15e-6},
      {"series": "Ew 58 mab", "f": 5623, "lo": 1.26e-7, "hi": 1.58e-6},
      {"series": "Ew 58 mab", "f": 5750, "lo": 1.2e-7, "hi": 2.0e-6},
      {"series": "Ew 58 mab", "f": 5888, "lo": 1.51e-7, "hi": 2.3e-6},
      {"series": "Ew 58 mab", "f": 6100, "lo": 1.6e-7, "hi": 3.1e-6},
      {"series": "Ew 58 mab", "f": 6310, "lo": 2.0e-7, "hi": 3.5e-6},
      {"series": "Ew 58 mab", "f": 6530, "lo": 1.9e-7, "hi": 4.0e-6},
      {"series": "Ew 58 mab", "f": 6761, "lo": 2.24e-7, "hi": 3.8e-6},
      {"series": "Ew 58 mab", "f": 7000, "lo": 2.1e-7, "hi": 3.3e-6},
      {"series": "Ew 58 mab", "f": 7244, "lo": 2.5e-7, "hi": 3.0e-6},
      {"series": "Ew 58 mab", "f": 7400, "lo": 2.3e-7, "hi": 3.7e-6},
      {"series": "Ew 58 mab", "f": 7586, "lo": 2.6e-7, "hi": 3.6e-6},
      {"series": "Ew 58 mab", "f": 7950, "lo": 2.4e-7, "hi": 3.3e-6},
      {"series": "Ew 58 mab", "f": 8318, "lo": 2.75e-7, "hi": 4.0e-6},
      {"series": "Ew 58 mab", "f": 8700, "lo": 2.5e-7, "hi": 4.4e-6},
      {"series": "Ew 58 mab", "f": 9120, "lo": 3.0e-7, "hi": 4.4e-6},
      {"series": "Ew 58 mab", "f": 9550, "lo": 2.7e-7, "hi": 3.9e-6},
      {"series": "Ew 58 mab", "f": 10000, "lo": 3.16e-7, "hi": 4.5e-6},
      {"series": "Ew 58 mab", "f": 10600, "lo": 2.9e-7, "hi": 4.7e-6},
      {"series": "Ew 58 mab", "f": 11220, "lo": 2.7e-7, "hi": 3.5e-6},
      {"series": "Ew 58 mab", "f": 11900, "lo": 2.2e-7, "hi": 2.9e-6},
      {"series": "Ew 58 mab", "f": 12590, "lo": 1.78e-7, "hi": 2.3e-6},
      {"series": "Ew 58 mab", "f": 13300, "lo": 1.3e-7, "hi": 1.4e-6},
      {"series": "Ew 58 mab", "f": 14130, "lo": 8.9e-8, "hi": 7.9e-7},
      {"series": "Ew 58 mab", "f": 15000, "lo": 5.0e-8, "hi": 4.4e-7},
      {"series": "Ew 58 mab", "f": 15850, "lo": 2.8e-8, "hi": 2.24e-7},
      {"series": "Ew 58 mab", "f": 16800, "lo": 2.0e-8, "hi": 1.0e-7},
      {"series": "Ew 58 mab", "f": 17780, "lo": 1.26e-8, "hi": 6.3e-8},
      {"series": "Ew 58 mab", "f": 18800, "lo": 7.0e-9, "hi": 4.2e-8},
      {"series": "Ew 58 mab", "f": 19950, "lo": 4.5e-9, "hi": 3.5e-8},
      {"series": "Ew 58 mab", "f": 20650, "lo": 2.5e-9, "hi": 3.0e-8},
      {"series": "Ew 58 mab", "f": 21380, "lo": 1.74e-9, "hi": 2.8e-8},
      {"series": "Ew 58 mab", "f": 23.7, "lo": 1.45e-7, "hi": 3.8e-7},
      {"series": "Ew 58 mab", "f": 26.6, "lo": 1.76e-7, "hi": 5.0e-7},
      {"series": "Ew 58 mab", "f": 29.9, "lo": 6.5e-8, "hi": 4.0e-7},
      {"series": "Ew 58 mab", "f": 33.5, "lo": 1.31e-7, "hi": 6.0e-7},
      {"series": "Ew 58 mab", "f": 37.6, "lo": 1.21e-7, "hi": 3.6e-7},
      {"series": "Ew 58 mab", "f": 42.2, "lo": 1.43e-7, "hi": 3.7e-7},
      {"series": "Ew 58 mab", "f": 47.3, "lo": 5.2e-8, "hi": 3.4e-7},
      {"series": "Ew 58 mab", "f": 53.1, "lo": 1.27e-7, "hi": 2.7e-7},
      {"series": "Ew 58 mab", "f": 59.6, "lo": 1.43e-7, "hi": 3.4e-7},
      {"series": "Ew 58 mab", "f": 66.8, "lo": 6.6e-8, "hi": 3.1e-7},
      {"series": "Ew 58 mab", "f": 75.0, "lo": 1.25e-7, "hi": 4.4e-7},
      {"series": "Ew 58 mab", "f": 84.1, "lo": 1.1e-7, "hi": 2.26e-7},
      {"series": "Ew 58 mab", "f": 94.4, "lo": 1.13e-7, "hi": 2.24e-7},
      {"series": "Ew 58 mab", "f": 106, "lo": 3.1e-8, "hi": 2.5e-7},
      {"series": "Ew 58 mab", "f": 119, "lo": 9.0e-8, "hi": 1.73e-7},
      {"series": "Ew 58 mab", "f": 133, "lo": 1.09e-7, "hi": 2.3e-7},
      {"series": "Ew 58 mab", "f": 150, "lo": 3.9e-8, "hi": 1.7e-7},
      {"series": "Ew 58 mab", "f": 168, "lo": 6.9e-8, "hi": 2.9e-7},
      {"series": "Ew 58 mab", "f": 188, "lo": 4.2e-8, "hi": 1.39e-7},
      {"series": "Ew 58 mab", "f": 211, "lo": 4.9e-8, "hi": 1.42e-7},
      {"series": "Ew 58 mab", "f": 237, "lo": 1.68e-8, "hi": 1.16e-7},
      {"series": "Ew 58 mab", "f": 266, "lo": 3.2e-8, "hi": 9.3e-8},
      {"series": "Ew 58 mab", "f": 299, "lo": 2.6e-8, "hi": 1.0e-7},
      {"series": "Ew 58 mab", "f": 335, "lo": 7.4e-9, "hi": 8.7e-8},
      {"series": "Ew 58 mab", "f": 376, "lo": 1.73e-8, "hi": 1.17e-7},
      {"series": "Ew 58 mab", "f": 422, "lo": 1.52e-8, "hi": 6.1e-8},
      {"series": "Ew 58 mab", "f": 473, "lo": 1.33e-8, "hi": 4.5e-8},
      {"series": "Ew 58 mab", "f": 531, "lo": 3.7e-9, "hi": 5.0e-8},
      {"series": "Ew 58 mab", "f": 596, "lo": 9.8e-9, "hi": 3.5e-8},
      {"series": "Ew 58 mab", "f": 668, "lo": 1.19e-8, "hi": 4.6e-8},
      {"series": "Ew 58 mab", "f": 750, "lo": 5.6e-9, "hi": 3.3e-8},
      {"series": "Ew 58 mab", "f": 841, "lo": 1.06e-8, "hi": 6.4e-8},
      {"series": "Ew 58 mab", "f": 944, "lo": 8.1e-9, "hi": 2.9e-8},
      {"series": "Ew 58 mab", "f": 1059, "lo": 9.6e-9, "hi": 3.0e-8},
      {"series": "Ew 58 mab", "f": 1189, "lo": 2.7e-9, "hi": 3.15e-8},
      {"series": "Ew 58 mab", "f": 1334, "lo": 8.4e-9, "hi": 2.5e-8},
      {"series": "Ew 58 mab", "f": 1496, "lo": 9.7e-9, "hi": 3.1e-8},
      {"series": "Ew 58 mab", "f": 1679, "lo": 3.4e-9, "hi": 2.8e-8},
      {"series": "Ew 58 mab", "f": 1884, "lo": 8.3e-9, "hi": 5.2e-8},
      {"series": "Ew 58 mab", "f": 2113, "lo": 7.3e-9, "hi": 2.7e-8},
      {"series": "Ew 58 mab", "f": 2371, "lo": 8.8e-9, "hi": 2.5e-8},
      {"series": "Ew 58 mab", "f": 2661, "lo": 2.9e-9, "hi": 2.8e-8},
      {"series": "Ew 58 mab", "f": 2985, "lo": 7.0e-9, "hi": 2.4e-8},
      {"series": "Ew 58 mab", "f": 3350, "lo": 8.5e-9, "hi": 3.1e-8},
      {"series": "Ew 58 mab", "f": 3758, "lo": 2.85e-9, "hi": 2.7e-8},
      {"series": "Ew 58 mab", "f": 4217, "lo": 7.9e-9, "hi": 4.0e-8}
    ]
  },
  "layer": [
    {
      "transform": [{"filter": "datum.series == 'KE, 16 mab'"}],
      "mark": {"type": "area", "fill": "#0000ff", "fillOpacity": 1, "strokeWidth": 1, "clip": true},
      "encoding": {
        "x": {
          "field": "f", "type": "quantitative",
          "scale": {"type": "log", "domain": [0.3, 28000], "nice": false},
          "axis": {
            "orient": "bottom",
            "title": "σ (cpd)",
            "titleFontSize": 18,
            "titlePadding": 4,
            "values": [0.3,0.4,0.5,0.6,0.7,0.8,0.9,1,2,3,4,5,6,7,8,9,10,20,30,40,50,60,70,80,90,100,200,300,400,500,600,700,800,900,1000,2000,3000,4000,5000,6000,7000,8000,9000,10000,20000],
            "labelExpr": "datum.value == 1 ? '10⁰' : datum.value == 10 ? '10¹' : datum.value == 100 ? '10²' : datum.value == 1000 ? '10³' : datum.value == 10000 ? '10⁴' : ''",
            "labelOverlap": false,
            "labelFlush": false,
            "labelFontSize": 16,
            "labelPadding": 14,
            "grid": true,
            "gridColor": {"condition": {"test": "datum.value == 1 || datum.value == 10 || datum.value == 100 || datum.value == 1000 || datum.value == 10000", "value": "#dcdcdc"}, "value": "#bdbdbd"},
            "gridDash": {"condition": {"test": "datum.value == 1 || datum.value == 10 || datum.value == 100 || datum.value == 1000 || datum.value == 10000", "value": []}, "value": [1, 2]},
            "tickSize": {"condition": {"test": "datum.value == 1 || datum.value == 10 || datum.value == 100 || datum.value == 1000 || datum.value == 10000", "value": -6}, "value": -3}
          }
        },
        "y": {
          "field": "lo", "type": "quantitative",
          "scale": {"type": "log", "domain": [1e-9, 1e-3], "nice": false},
          "axis": {
            "orient": "left",
            "title": "KE, Ew ((m s⁻¹)² cpd⁻¹)",
            "titleFontSize": 18,
            "titlePadding": 10,
            "values": [1e-9,2e-9,3e-9,4e-9,5e-9,6e-9,7e-9,8e-9,9e-9,1e-8,2e-8,3e-8,4e-8,5e-8,6e-8,7e-8,8e-8,9e-8,1e-7,2e-7,3e-7,4e-7,5e-7,6e-7,7e-7,8e-7,9e-7,1e-6,2e-6,3e-6,4e-6,5e-6,6e-6,7e-6,8e-6,9e-6,1e-5,2e-5,3e-5,4e-5,5e-5,6e-5,7e-5,8e-5,9e-5,1e-4,2e-4,3e-4,4e-4,5e-4,6e-4,7e-4,8e-4,9e-4,1e-3],
            "labelExpr": "datum.value == 1e-3 ? '10⁻³' : datum.value == 1e-4 ? '10⁻⁴' : datum.value == 1e-5 ? '10⁻⁵' : datum.value == 1e-6 ? '10⁻⁶' : datum.value == 1e-7 ? '10⁻⁷' : datum.value == 1e-8 ? '10⁻⁸' : datum.value == 1e-9 ? '10⁻⁹' : ''",
            "labelOverlap": false,
            "labelFlush": false,
            "labelFontSize": 16,
            "labelPadding": 13,
            "grid": true,
            "gridColor": {"condition": {"test": "indexof([1e-9,1e-8,1e-7,1e-6,1e-5,1e-4,1e-3], datum.value) >= 0", "value": "#dcdcdc"}, "value": "#bdbdbd"},
            "gridDash": {"condition": {"test": "indexof([1e-9,1e-8,1e-7,1e-6,1e-5,1e-4,1e-3], datum.value) >= 0", "value": []}, "value": [1, 2]},
            "tickSize": {"condition": {"test": "indexof([1e-9,1e-8,1e-7,1e-6,1e-5,1e-4,1e-3], datum.value) >= 0", "value": -6}, "value": -3}
          }
        },
        "y2": {"field": "hi"},
        "stroke": {
          "field": "series", "type": "nominal",
          "scale": {"domain": ["KE, 16 mab", "KE, 58 mab", "Ew 16 mab", "Ew 58 mab"], "range": ["#0000ff", "#ff0000", "#00ff00", "#000000"]},
          "legend": {"orient": "none", "legendX": 410, "legendY": 13, "title": null, "symbolType": "stroke", "symbolSize": 1600, "symbolStrokeWidth": 1.5, "labelFont": "Liberation Sans", "labelFontSize": 16, "labelColor": "#000000", "labelOffset": 3, "strokeColor": "#262626", "fillColor": "white", "padding": 6, "rowPadding": 5}
        }
      }
    },
    {
      "transform": [{"filter": "datum.series == 'KE, 58 mab'"}],
      "mark": {"type": "area", "fill": "#ff0000", "fillOpacity": 1, "strokeWidth": 1, "clip": true},
      "encoding": {
        "x": {"field": "f", "type": "quantitative", "scale": {"type": "log", "domain": [0.3, 28000], "nice": false}, "axis": null},
        "y": {"field": "lo", "type": "quantitative", "scale": {"type": "log", "domain": [1e-9, 1e-3], "nice": false}, "axis": null},
        "y2": {"field": "hi"},
        "stroke": {
          "field": "series", "type": "nominal",
          "scale": {"domain": ["KE, 16 mab", "KE, 58 mab", "Ew 16 mab", "Ew 58 mab"], "range": ["#0000ff", "#ff0000", "#00ff00", "#000000"]},
          "legend": {"orient": "none", "legendX": 410, "legendY": 13, "title": null, "symbolType": "stroke", "symbolSize": 1600, "symbolStrokeWidth": 1.5, "labelFont": "Liberation Sans", "labelFontSize": 16, "labelColor": "#000000", "labelOffset": 3, "strokeColor": "#262626", "fillColor": "white", "padding": 6, "rowPadding": 5}
        }
      }
    },
    {
      "transform": [{"filter": "datum.series == 'Ew 16 mab'"}],
      "mark": {"type": "area", "fill": "#00ff00", "fillOpacity": 1, "strokeWidth": 1, "clip": true},
      "encoding": {
        "x": {"field": "f", "type": "quantitative", "scale": {"type": "log", "domain": [0.3, 28000], "nice": false}, "axis": null},
        "y": {"field": "lo", "type": "quantitative", "scale": {"type": "log", "domain": [1e-9, 1e-3], "nice": false}, "axis": null},
        "y2": {"field": "hi"},
        "stroke": {
          "field": "series", "type": "nominal",
          "scale": {"domain": ["KE, 16 mab", "KE, 58 mab", "Ew 16 mab", "Ew 58 mab"], "range": ["#0000ff", "#ff0000", "#00ff00", "#000000"]},
          "legend": {"orient": "none", "legendX": 410, "legendY": 13, "title": null, "symbolType": "stroke", "symbolSize": 1600, "symbolStrokeWidth": 1.5, "labelFont": "Liberation Sans", "labelFontSize": 16, "labelColor": "#000000", "labelOffset": 3, "strokeColor": "#262626", "fillColor": "white", "padding": 6, "rowPadding": 5}
        }
      }
    },
    {
      "transform": [{"filter": "datum.series == 'Ew 58 mab'"}],
      "mark": {"type": "area", "fill": "#000000", "fillOpacity": 1, "strokeWidth": 1, "clip": true},
      "encoding": {
        "x": {"field": "f", "type": "quantitative", "scale": {"type": "log", "domain": [0.3, 28000], "nice": false}, "axis": null},
        "y": {"field": "lo", "type": "quantitative", "scale": {"type": "log", "domain": [1e-9, 1e-3], "nice": false}, "axis": null},
        "y2": {"field": "hi"},
        "stroke": {
          "field": "series", "type": "nominal",
          "scale": {"domain": ["KE, 16 mab", "KE, 58 mab", "Ew 16 mab", "Ew 58 mab"], "range": ["#0000ff", "#ff0000", "#00ff00", "#000000"]},
          "legend": {"orient": "none", "legendX": 410, "legendY": 13, "title": null, "symbolType": "stroke", "symbolSize": 1600, "symbolStrokeWidth": 1.5, "labelFont": "Liberation Sans", "labelFontSize": 16, "labelColor": "#000000", "labelOffset": 3, "strokeColor": "#262626", "fillColor": "white", "padding": 6, "rowPadding": 5}
        }
      }
    },
    {
      "data": {"values": [{"f": 135, "f2": 900, "v": 3.53e-5}]},
      "mark": {"type": "rule", "color": "#000000", "strokeWidth": 2.5},
      "encoding": {
        "x": {
          "field": "f", "type": "quantitative",
          "scale": {"type": "log", "domain": [0.3, 28000], "nice": false},
          "axis": {
            "orient": "top", "title": null, "labels": false, "grid": false,
            "values": [0.3,0.4,0.5,0.6,0.7,0.8,0.9,1,2,3,4,5,6,7,8,9,10,20,30,40,50,60,70,80,90,100,200,300,400,500,600,700,800,900,1000,2000,3000,4000,5000,6000,7000,8000,9000,10000,20000],
            "tickSize": {"condition": {"test": "datum.value == 1 || datum.value == 10 || datum.value == 100 || datum.value == 1000 || datum.value == 10000", "value": -6}, "value": -3}
          }
        },
        "x2": {"field": "f2"},
        "y": {
          "field": "v", "type": "quantitative",
          "scale": {"type": "log", "domain": [1e-9, 1e-3], "nice": false},
          "axis": {
            "orient": "right", "title": null, "labels": false, "grid": false,
            "values": [1e-9,2e-9,3e-9,4e-9,5e-9,6e-9,7e-9,8e-9,9e-9,1e-8,2e-8,3e-8,4e-8,5e-8,6e-8,7e-8,8e-8,9e-8,1e-7,2e-7,3e-7,4e-7,5e-7,6e-7,7e-7,8e-7,9e-7,1e-6,2e-6,3e-6,4e-6,5e-6,6e-6,7e-6,8e-6,9e-6,1e-5,2e-5,3e-5,4e-5,5e-5,6e-5,7e-5,8e-5,9e-5,1e-4,2e-4,3e-4,4e-4,5e-4,6e-4,7e-4,8e-4,9e-4,1e-3],
            "tickSize": {"condition": {"test": "indexof([1e-9,1e-8,1e-7,1e-6,1e-5,1e-4,1e-3], datum.value) >= 0", "value": -6}, "value": -3}
          }
        }
      }
    },
    {
      "data": {"values": [{"f": 149, "v": 3.53e-5}]},
      "mark": {"type": "point", "shape": "M-1,0L1,-1L0.6,0L1,1Z", "size": 400, "filled": true, "color": "#000000", "opacity": 1},
      "encoding": {
        "x": {"field": "f", "type": "quantitative", "scale": {"type": "log", "domain": [0.3, 28000], "nice": false}, "axis": null},
        "y": {"field": "v", "type": "quantitative", "scale": {"type": "log", "domain": [1e-9, 1e-3], "nice": false}, "axis": null}
      }
    },
    {
      "data": {"values": [{"f": 833, "v": 3.53e-5}]},
      "mark": {"type": "point", "shape": "M1,0L-1,-1L-0.6,0L-1,1Z", "size": 400, "filled": true, "color": "#000000", "opacity": 1},
      "encoding": {
        "x": {"field": "f", "type": "quantitative", "scale": {"type": "log", "domain": [0.3, 28000], "nice": false}, "axis": null},
        "y": {"field": "v", "type": "quantitative", "scale": {"type": "log", "domain": [1e-9, 1e-3], "nice": false}, "axis": null}
      }
    },
    {
      "data": {"values": [{"f": 365, "v": 6.4e-5, "label": "N"}]},
      "mark": {"type": "text", "font": "Liberation Sans", "fontSize": 25, "align": "center", "baseline": "middle", "color": "#000000"},
      "encoding": {
        "x": {"field": "f", "type": "quantitative", "scale": {"type": "log", "domain": [0.3, 28000], "nice": false}, "axis": null},
        "y": {"field": "v", "type": "quantitative", "scale": {"type": "log", "domain": [1e-9, 1e-3], "nice": false}, "axis": null},
        "text": {"field": "label"}
      }
    }
  ],
  "resolve": {"axis": {"x": "independent", "y": "independent"}}
}
